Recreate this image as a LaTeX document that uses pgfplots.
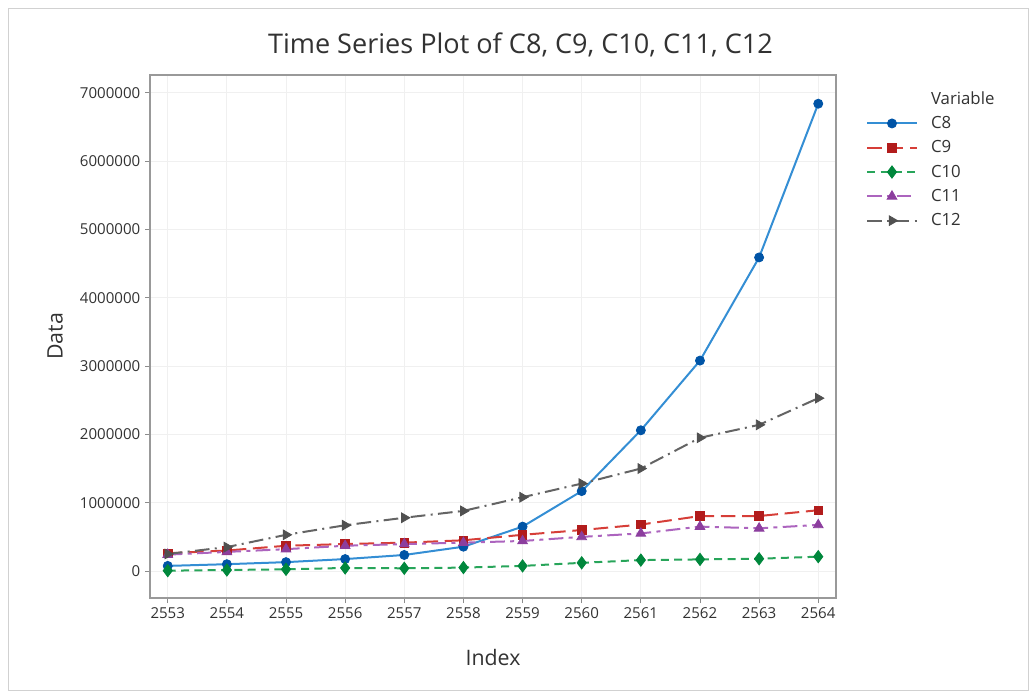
\documentclass[border=0pt]{standalone}
\usepackage{fontspec}
\setmainfont{Open Sans}
\usepackage{pgfplots}
\usepackage{pgfplotstable}
\pgfplotsset{compat=1.18}
\definecolor{c8l}{RGB}{52,142,212}
\definecolor{c8m}{RGB}{0,84,166}
\definecolor{c9l}{RGB}{214,62,56}
\definecolor{c9m}{RGB}{178,28,28}
\definecolor{c10l}{RGB}{40,165,90}
\definecolor{c10m}{RGB}{0,135,60}
\definecolor{c11l}{RGB}{172,100,190}
\definecolor{c11m}{RGB}{140,62,158}
\definecolor{c12l}{RGB}{100,100,100}
\definecolor{c12m}{RGB}{80,80,80}
\definecolor{txt}{RGB}{50,50,50}
\pgfplotstableread{
x C8 C9 C10 C11 C12
2553 75000 260000 5000 240000 250000
2554 100000 300000 15000 280000 350000
2555 130000 370000 25000 320000 530000
2556 175000 395000 45000 370000 670000
2557 235000 415000 40000 395000 780000
2558 356000 450000 50000 415000 880000
2559 650000 530000 75000 440000 1080000
2560 1170000 600000 120000 500000 1280000
2561 2060000 680000 160000 550000 1500000
2562 3080000 805000 170000 650000 1950000
2563 4590000 805000 180000 625000 2140000
2564 6840000 890000 210000 675000 2530000
}\data
\begin{document}
\begin{tikzpicture}
\begin{scope}[x=0.75pt,y=-0.75pt]
\path[use as bounding box] (0,0) rectangle (1036,694);
\draw[black!18,line width=0.75pt] (8,8) rectangle (1028,690);
\end{scope}
\begin{axis}[
  at={(112.5pt,-448.5pt)}, anchor=south west,
  scale only axis, width=514.5pt, height=392.25pt,
  xmin=2552.7, xmax=2564.3,
  ymin=-395000, ymax=7260000,
  xtick={2553,...,2564},
  ytick={0,1000000,...,7000000},
  scaled y ticks=false,
  /pgf/number format/.cd, fixed, 1000 sep={}, assume math mode=true, /pgfplots/.cd,
  tick pos=left, tick align=outside,
  major tick length=3.75pt,
  tick style={black!45, line width=0.6pt},
  axis line style={black!40, line width=0.8pt},
  grid=major,
  major grid style={black!6, line width=0.6pt},
  ticklabel style={font=\fontsize{11.3}{13}\selectfont, text=txt},
  title={Time Series Plot of C8, C9, C10, C11, C12},
  title style={font=\fontsize{20.3}{24}\selectfont, text=txt, at={(0.54,1.0)}, yshift=4pt},
  xlabel={Index}, ylabel={Data},
  label style={font=\fontsize{16}{18}\selectfont, text=txt},
  xlabel style={yshift=-16pt},
  ylabel style={yshift=6pt},
  legend cell align=left,
  legend style={at={(1.038,0.978)}, anchor=north west, draw=none, fill=none,
    font=\fontsize{12.6}{14}\selectfont, text=txt, row sep=4.6pt,
    nodes={inner sep=1.5pt}},
  legend image code/.code={\draw[#1] (0cm,0cm) -- (1.3cm,0cm);
    \draw[#1,solid] plot coordinates {(0.65cm,0cm)};
    \path (1.6cm,0cm);},
]
\addlegendimage{empty legend}
\addlegendentry{Variable}
\addplot[c8l, line width=1.5pt, solid, mark=*, mark size=3.4pt, mark options={solid, line width=0.6pt, fill=c8m, draw=c8m}] table[x=x,y=C8]{\data};
\addlegendentry{C8}
\addplot[c9l, line width=1.5pt, dash pattern=on 11pt off 5pt, mark=square*, mark size=3.2pt, mark options={solid, line width=0.6pt, fill=c9m, draw=c9m}] table[x=x,y=C9]{\data};
\addlegendentry{C9}
\addplot[c10l, line width=1.5pt, dash pattern=on 6pt off 4pt, mark=diamond*, mark size=4.6pt, mark options={solid, line width=0.6pt, fill=c10m, draw=c10m}] table[x=x,y=C10]{\data};
\addlegendentry{C10}
\addplot[c11l, line width=1.5pt, dash pattern=on 11pt off 4pt on 3pt off 4pt, mark=triangle*, mark size=4.2pt, mark options={solid, line width=0.6pt, fill=c11m, draw=c11m}] table[x=x,y=C11]{\data};
\addlegendentry{C11}
\addplot[c12l, line width=1.5pt, dash pattern=on 11pt off 4pt on 1.5pt off 4pt, mark=triangle*, mark size=4.2pt, mark options={solid, line width=0.6pt, rotate=-90, fill=c12m, draw=c12m}] table[x=x,y=C12]{\data};
\addlegendentry{C12}
\end{axis}
\end{tikzpicture}
\end{document}
